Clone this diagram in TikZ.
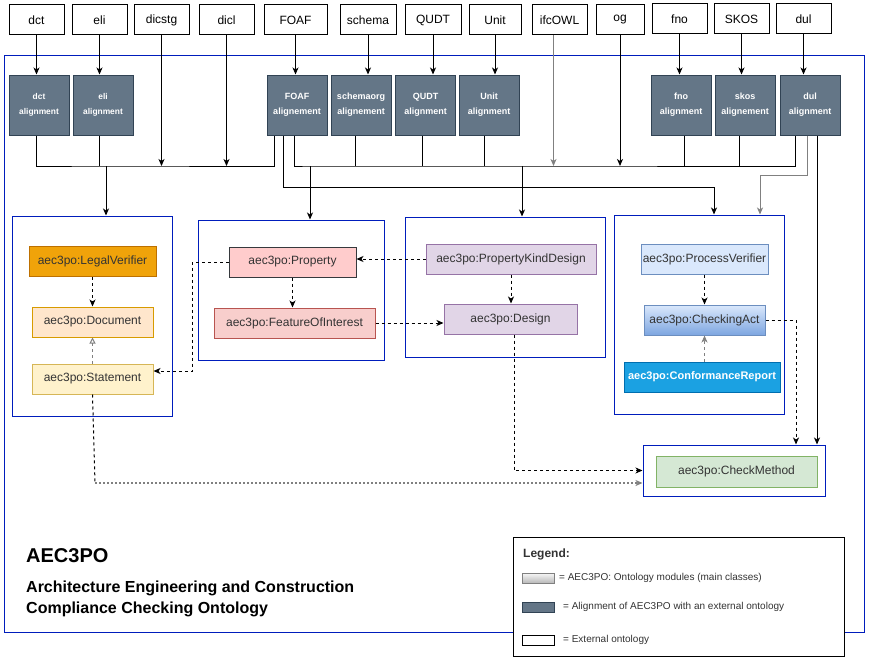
\documentclass[tikz,border=0pt]{standalone}
\usepackage{fontspec}
\setmainfont{Liberation Sans}
\usetikzlibrary{arrows.meta,positioning,calc}
\definecolor{frmblue}{RGB}{0,29,188}
\definecolor{alnfill}{RGB}{100,118,135}
\definecolor{alnline}{RGB}{49,67,84}
\definecolor{txtgray}{RGB}{51,51,51}
\definecolor{lvfill}{RGB}{240,163,10}
\definecolor{lvline}{RGB}{189,112,0}
\definecolor{docfill}{RGB}{255,230,204}
\definecolor{docline}{RGB}{215,155,0}
\definecolor{stfill}{RGB}{255,242,204}
\definecolor{stline}{RGB}{214,182,86}
\definecolor{propfill}{RGB}{255,204,204}
\definecolor{propline}{RGB}{54,57,61}
\definecolor{foifill}{RGB}{248,206,204}
\definecolor{foiline}{RGB}{184,84,80}
\definecolor{dsgfill}{RGB}{225,213,231}
\definecolor{dsgline}{RGB}{150,115,166}
\definecolor{pvfill}{RGB}{218,232,252}
\definecolor{pvline}{RGB}{108,142,191}
\definecolor{cafill}{RGB}{126,166,224}
\definecolor{crfill}{RGB}{27,161,226}
\definecolor{crline}{RGB}{0,110,175}
\definecolor{cmfill}{RGB}{213,232,212}
\definecolor{cmline}{RGB}{130,179,102}
\tikzset{
  ext/.style={draw=black, fill=white, line width=1pt, minimum width=55pt, minimum height=30pt,
              inner sep=0pt, font=\fontsize{12}{14}\selectfont},
  aln/.style={draw=alnline, fill=alnfill, line width=1pt, minimum width=60pt, minimum height=60pt,
              inner sep=0pt, align=center, text=white, font=\fontsize{9}{15}\selectfont\bfseries},
  alnsm/.style={aln, font=\fontsize{8.4}{14.7}\selectfont\bfseries},
  frm/.style={draw=frmblue, line width=1pt, inner sep=0pt},
  cls/.style={line width=1pt, minimum height=30pt, inner sep=0pt, text=txtgray,
              font=\fontsize{12}{14}\selectfont},
  wire/.style={line width=1pt},
  arr/.style={line width=1pt, -{Stealth[length=7pt,width=6pt,inset=2pt]}},
  dsh/.style={arr, dash pattern=on 3pt off 3pt},
  dotarr/.style={arr, gray, line width=1.5pt, dash pattern=on 2pt off 2pt},
  lgd/.style={line width=1pt, minimum width=32pt, minimum height=10pt, inner sep=0pt},
  lgtxt/.style={anchor=west, inner sep=0pt, text=txtgray, font=\fontsize{10}{12}\selectfont},
}

\begin{document}
\begin{tikzpicture}[x=1pt, y=-1pt]
    \useasboundingbox (0,0) rectangle (869,661);
    % external ontologies
    \node[ext] (dct) at (36.5,20) {dct};
    \node[ext] (eli) at (99.5,20) {eli};
    \node[ext] (dicstg) at (161.5,20) {dicstg};
    \node[ext] (dicl) at (226.5,20) {dicl};
    \node[ext, minimum width=63pt] (foaf) at (295.5,20) {FOAF};
    \node[ext, minimum width=56pt] (schema) at (368,20) {schema};
    \node[ext, minimum width=56pt] (qudt) at (433,20) {QUDT};
    \node[ext, minimum width=52pt] (unit) at (495,20) {Unit};
    \node[ext] (ifcowl) at (559.5,20) {ifcOWL};
    \node[ext, minimum width=48pt] (og) at (620,20) {og};
    \node[ext] (fno) at (679.5,19) {fno};
    \node[ext] (skos) at (741.5,19) {SKOS};
    \node[ext] (dul) at (803.5,19) {dul};
    % AEC3PO frame
    \draw[frm] (4,56) rectangle (864,632);
    % alignments
    \node[alnsm] (dctal) at (39,105) {dct\\alignment};
    \node[alnsm] (elial) at (103,105) {eli\\alignment};
    \node[aln] (foafal) at (297,105) {FOAF\\alignement};
    \node[aln] (schemaal) at (361,105) {schemaorg\\alignement};
    \node[aln] (qudtal) at (425.5,105) {QUDT\\alignment};
    \node[aln] (unital) at (489,105) {Unit\\alignment};
    \node[aln] (fnoal) at (681,105) {fno\\alignment};
    \node[aln] (skosal) at (745,105) {skos\\alignement};
    \node[aln] (dulal) at (810,105) {dul\\alignment};
    % modules
    \node[frm, minimum width=160pt, minimum height=200pt] (legalmod) at (92,316) {};
    \node[frm, minimum width=186pt, minimum height=140pt] (propmod) at (291,290) {};
    \node[frm, minimum width=200pt, minimum height=140pt] (designmod) at (505,287) {};
    \node[frm, minimum width=170pt, minimum height=199pt] (procmod) at (699,314.5) {};
    \node[frm, minimum width=182pt, minimum height=51pt] (methodmod) at (734,470.5) {};
    % classes
    \node[cls, fill=lvfill, draw=lvline, minimum width=127pt] (legalv) at (92.5,261.5) {aec3po:LegalVerifier};
    \node[cls, fill=docfill, draw=docline, minimum width=121pt] (doc) at (92.5,322) {aec3po:Document};
    \node[cls, fill=stfill, draw=stline, minimum width=121pt] (stmt) at (92.5,379) {aec3po:Statement};
    \node[cls, fill=propfill, draw=propline, minimum width=127pt] (prop) at (292.5,262) {aec3po:Property};
    \node[cls, fill=foifill, draw=foiline, minimum width=161pt] (foi) at (294.5,323) {aec3po:FeatureOfInterest};
    \node[cls, fill=dsgfill, draw=dsgline, minimum width=170pt] (pkd) at (511,259) {aec3po:PropertyKindDesign};
    \node[cls, fill=dsgfill, draw=dsgline, minimum width=133pt] (design) at (510.5,319) {aec3po:Design};
    \node[cls, fill=pvfill, draw=pvline, minimum width=127pt] (procv) at (704.5,259) {aec3po:ProcessVerifier};
    \node[cls, top color=pvfill, bottom color=cafill, draw=pvline, minimum width=121pt] (chkact) at (704.5,320) {aec3po:CheckingAct};
    \node[cls, fill=crfill, draw=crline, text=white, font=\fontsize{11}{13}\selectfont\bfseries,
          minimum width=156pt] (confrep) at (702,377) {aec3po:ConformanceReport};
    \node[cls, fill=cmfill, draw=cmline, minimum width=161pt, minimum height=31pt] (chkm) at (736.5,471.5) {aec3po:CheckMethod};
    % external -> alignment
    \foreach \e/\a in {dct/dctal, eli/elial, foaf/foafal, schema/schemaal, qudt/qudtal,
                       unit/unital, fno/fnoal, skos/skosal, dul/dulal}
      \draw[arr] (\e.south) -- (\e.south |- \a.north);
    % left bus
    \coordinate (busl) at (106,166);
    \draw[wire] (dct.south |- dctal.south) |- (busl) -| ([xshift=-23pt]foafal.south);
    \draw[wire] (eli.south |- elial.south) -- (eli.south |- busl);
    \draw[arr] (dicstg.south) -- (dicstg.south |- busl);
    \draw[arr] (dicl.south) -- (dicl.south |- busl);
    \draw[arr] (busl) -- (busl |- legalmod.north);
    % right bus
    \coordinate (busp) at (310,166);
    \coordinate (busd) at (522,166);
    \draw[wire] ([xshift=-3pt]foafal.south) |- (busp) -- (busd) -| ([xshift=-15pt]dulal.south);
    \foreach \a/\dx in {schemaal/-6, qudtal/-3.5, unital/-5, fnoal/3, skosal/-6}
      \draw[wire] ([xshift=\dx pt]\a.south) -- ([xshift=\dx pt]\a.south |- busp);
    \draw[arr, gray] ([xshift=-6pt]ifcowl.south) -- ([xshift=-6pt]ifcowl.south |- busp);
    \draw[arr] (og.south) -- (og.south |- busp);
    \draw[arr] (busp) -- (busp |- propmod.north);
    \draw[arr] (busd) -- (busd |- designmod.north);
    % to process and method modules
    \coordinate (busc) at (714,187);
    \draw[arr] ([xshift=-14pt]foafal.south) |- (busc) -- (busc |- procmod.north);
    \coordinate (busv) at (760,175);
    \draw[arr, gray] ([xshift=-3pt]dulal.south) |- (busv) -- (busv |- procmod.north);
    \draw[arr] ([xshift=7pt]dulal.south) -- ([xshift=7pt]dulal.south |- methodmod.north);
    % class relations
    \draw[dsh] (legalv) -- (doc);
    \draw[dsh, gray, -{Triangle[open,length=6pt,width=6pt]}] (stmt) -- (doc);
    \coordinate (pbend) at (192,371);
    \draw[dsh] (prop.west) -| (pbend) -- (stmt.east |- pbend);
    \draw[dsh] (prop.south) -- (prop.south |- foi.north);
    \draw[dsh] (pkd.west) -- (pkd.west -| prop.east);
    \draw[dsh] (foi.east) -- (foi.east -| design.west);
    \draw[dsh] (pkd.south) -- (pkd.south |- design.north);
    \draw[dsh] (procv.south) -- (procv.south |- chkact.north);
    \draw[dsh, gray] (chkact.south |- confrep.north) -- (chkact.south);
    \draw[dsh] (chkact.east) -| ([xshift=62pt]methodmod.north);
    \draw[dsh] ([xshift=3.5pt]design.south) |- (methodmod.west);
    \coordinate (stbend) at (95,483);
    \draw[wire, dash pattern=on 3pt off 3pt] (stmt.south) -- (stbend);
    \draw[dotarr] (stbend) -- (stbend -| methodmod.west);
    % title
    \node[anchor=base west, inner sep=0pt, font=\fontsize{20}{24}\selectfont\bfseries] (title) at (26,562) {AEC3PO};
    \node[anchor=base west, inner sep=0pt, font=\fontsize{16}{20}\selectfont\bfseries] (subone) at (26,592.5) {Architecture Engineering and Construction};
    \node[anchor=base west, inner sep=0pt, font=\fontsize{16}{20}\selectfont\bfseries] (subtwo) at (26,613.5) {Compliance Checking Ontology};
    % legend
    \node[draw, fill=white, line width=1pt, minimum width=331pt, minimum height=119pt, inner sep=0pt] (legend) at (678.5,596.5) {};
    \node[anchor=base west, inner sep=0pt, text=txtgray, font=\fontsize{12}{14}\selectfont\bfseries] (legendttl) at (523,557.5) {Legend:};
    \node[lgd, top color=gray!6, bottom color=gray!55, draw=gray] (lgmod) at (538,578) {};
    \node[lgtxt] (lgmodtxt) at (559,578) {= AEC3PO: Ontology modules (main classes)};
    \node[lgd, fill=alnfill, draw=alnline] (lgaln) at (538,607) {};
    \node[lgtxt] (lgalntxt) at (563,607) {= Alignment of AEC3PO with an external ontology};
    \node[lgd, fill=white, draw=black] (lgext) at (538,640) {};
    \node[lgtxt] (lgexttxt) at (563,640) {= External ontology};
\end{tikzpicture}
\end{document}
